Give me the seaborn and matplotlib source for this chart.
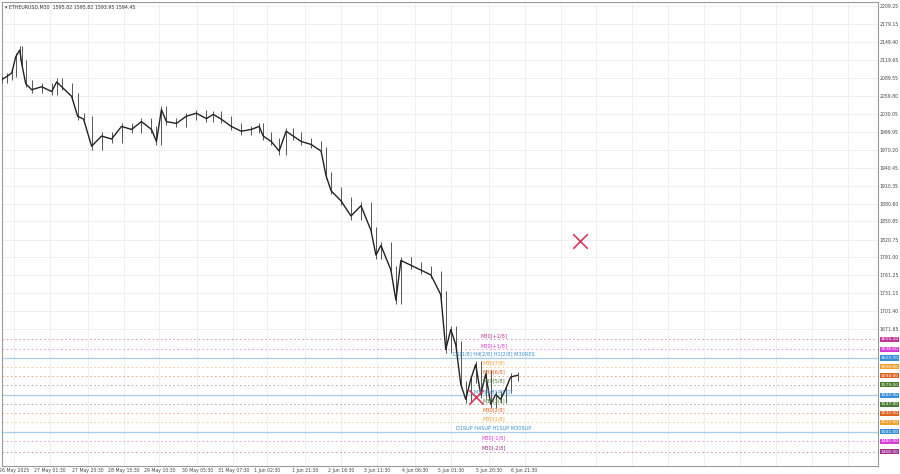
import matplotlib
matplotlib.use("Agg")
import matplotlib.pyplot as plt
import matplotlib.transforms as mtransforms
import seaborn as sns
import numpy as np
import pandas as pd

sns.set_theme(style="white")
plt.rcParams['font.family'] = ['DejaVu Sans']

bar_x = [0,5,10,14,18,20,24,30,40,50,55,60,70,76,82,90,100,110,120,130,140,150,155,160,165,175,185,195,205,212,220,230,240,250,258,262,270,278,285,292,300,310,320,325,330,340,350,360,370,375,380,390,395,400,410,420,430,440,445,450,455,460,465,470,475,480,485,490,495,500,505,510,517]
closes = [2087,2092,2098,2125,2136,2113,2080,2070,2075,2067,2083,2075,2059,2026,2021,1976,1993,1988,2009,2004,2017,2004,1984,2037,2017,2014,2026,2031,2022,2029,2021,2009,2001,2004,2009,1993,1984,1968,2001,1993,1984,1979,1968,1927,1902,1885,1860,1877,1836,1795,1811,1770,1720,1786,1778,1770,1762,1729,1638,1671,1646,1580,1555,1588,1613,1563,1597,1547,1563,1555,1572,1592,1595]

time_labels = ["26 May 2025","27 May 01:30","27 May 20:30","28 May 15:30","29 May 10:30","30 May 05:30","31 May 07:30","1 Jun 02:30","1 Jun 21:30","2 Jun 16:30","3 Jun 11:30","4 Jun 06:30","5 Jun 01:30","5 Jun 20:30","6 Jun 21:30"]
time_pos = [12,48,86,122,158,196,232,266,304,340,376,414,450,488,524]

level_names = ["M30[+2/8]","M30[+1/8]","D1[1/8] H4[2/8] H1[2/8] M30RES","M30[7/8]","M30[6/8]","M30[5/8]","M30[4/8] PIVOT","M30[3/8]","M30[2/8]","M30[1/8]","D1SUP H4SUP H1SUP M30SUP","M30[-1/8]","M30[-2/8]"]
level_prices = [1655.1,1638.6,1623.7,1608.8,1594.0,1579.0,1562.0,1547.0,1532.0,1517.0,1501.0,1485.0,1468.0]
level_colors = ["#c0399a","#d63bd6","#3a8fd9","#f0a030","#e06020","#4a7a30","#3a8fd9","#4a7a30","#e06020","#f0a030","#3a8fd9","#d63bd6","#a03090"]
level_solid = [False,False,True,False,False,False,True,False,False,False,True,False,False]

yticks = [2209.25,2179.15,2149.40,2119.65,2089.55,2059.80,2030.05,1999.95,1970.20,1940.45,1910.35,1880.60,1850.85,1820.75,1791.00,1761.25,1731.15,1701.40,1671.65]

cross_x = [580, 475]
cross_y = [1819, 1559]

fig = plt.figure(figsize=(9, 4.74), dpi=100)
ax = fig.add_axes([0.002, 8/474, 876/900, 1 - 10/474])
ax.set_xlim(0, 878)
ax.set_ylim(1444, 2216)

for yt in yticks:
    ax.axhline(yt, color="#ececec", lw=0.6, zorder=0)
for xp in time_pos:
    ax.axvline(xp, color="#ececec", lw=0.6, zorder=0)
for xg in range(560, 878, 36):
    ax.axvline(xg, color="#ececec", lw=0.6, zorder=0)

df = pd.DataFrame({"x": bar_x, "c": closes})
df["o"] = df["c"].shift(1).fillna(df["c"])
df["h"] = df[["o", "c"]].max(axis=1) + 6
df["l"] = df[["o", "c"]].min(axis=1) - 6
ax.vlines(df["x"], df["l"], df["h"], color="#555555", lw=0.7, zorder=3)
sns.lineplot(data=df, x="x", y="c", ax=ax, color="#222222", lw=1.0, zorder=4)

tr = mtransforms.blended_transform_factory(ax.transAxes, ax.transData)
for name, p, c, solid in zip(level_names, level_prices, level_colors, level_solid):
    if solid:
        ax.axhline(p, color="#a9cce8", lw=0.9, zorder=2)
    else:
        ax.axhline(p, color=c, lw=0.6, ls=(0, (2, 3)), alpha=0.6, zorder=2)
    ax.text(493, p + 2, name, color=c, fontsize=3.6, ha="center", va="bottom", zorder=5)
    ax.text(1.003, p, f"{p:.2f}", transform=tr, color="white", fontsize=3.2, va="center", ha="left",
            bbox=dict(boxstyle="square,pad=0.12", fc=c, ec="none"), clip_on=False)

ax.scatter(cross_x, cross_y, marker="x", s=110, color="#d8385a", lw=1.2, zorder=6)

ax.yaxis.tick_right()
ax.set_yticks(yticks)
ax.set_yticklabels([f"{v:.2f}" for v in yticks], fontsize=3.3, color="#444444")
ax.set_xticks(time_pos)
ax.set_xticklabels(time_labels, fontsize=3.3, color="#444444")
ax.tick_params(length=0, pad=1.5)
ax.set_xlabel("")
ax.set_ylabel("")
for s in ax.spines.values():
    s.set_color("#999999")
    s.set_linewidth(0.8)
ax.text(0.004, 0.995, "▾ ETHEURUSD,M30  1595.82 1595.82 1593.95 1594.45", transform=ax.transAxes,
        fontsize=3.4, va="top", ha="left", color="#333333")

fig.savefig("out.png", dpi=100)
